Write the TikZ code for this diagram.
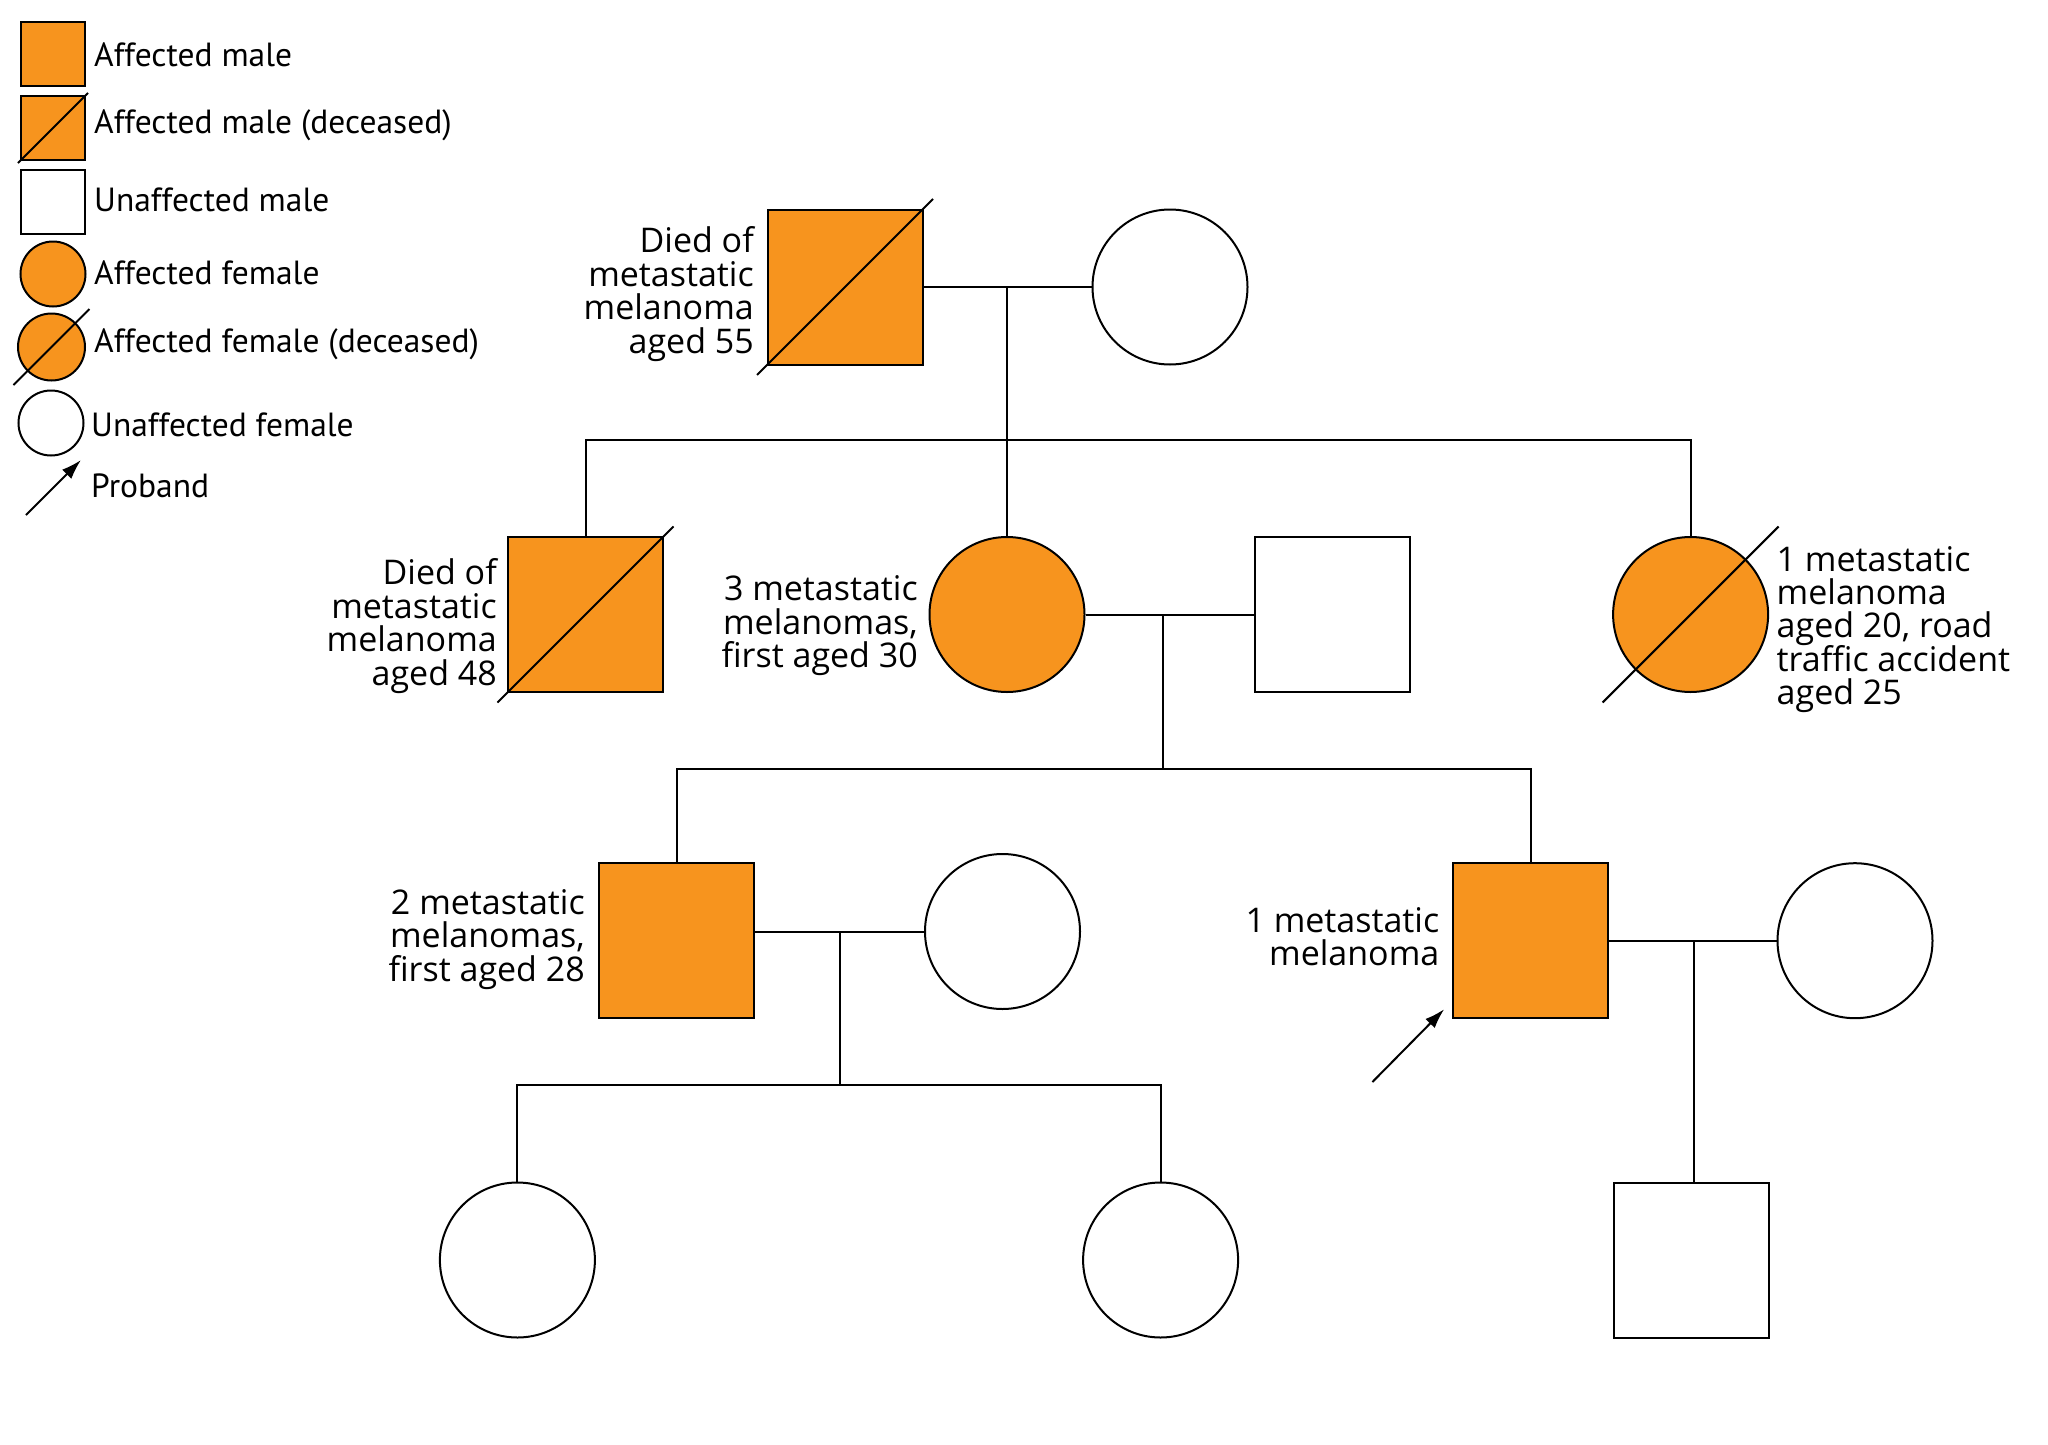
\documentclass[tikz,border=0pt]{standalone}
\usepackage{fontspec}
\setmainfont{PT Sans}
\newfontfamily\notefont{Open Sans}
\usetikzlibrary{arrows.meta,calc}
\definecolor{melorange}{RGB}{247,148,30}
\newcommand{\notesize}{\notefont\fontsize{34}{33.4}\selectfont\lineskiplimit=-20pt\relax}
\tikzstyle{male}=[rectangle,draw,line width=2pt,minimum size=155pt,inner sep=0pt]
\tikzstyle{female}=[circle,draw,line width=2pt,minimum size=155pt,inner sep=0pt]
\tikzstyle{hit}=[fill=melorange]
\tikzstyle{keymale}=[male,minimum size=64pt]
\tikzstyle{keyfemale}=[female,minimum size=65pt]
\tikzstyle{link}=[draw,line width=2pt]
\tikzstyle{note}=[font=\notesize,inner sep=0pt,align=right,anchor=east]
\tikzstyle{keytext}=[font=\fontsize{33.5}{33.5}\selectfont,inner sep=0pt,anchor=base west]
\newcommand{\deceased}[2]{\draw[line width=2pt] ($(#1)+(-#2,#2)$) -- ($(#1)+(#2,-#2)$);}

\begin{document}
\begin{tikzpicture}[x=1pt,y=-1pt]
    \useasboundingbox (0,0) rectangle (2048,1445);
    % Key
    \node[keymale,hit] (K1) at (53,54) {};
    \node[keymale,hit] (K2) at (53,128) {};
    \node[keymale] (K3) at (53,201.5) {};
    \node[keyfemale,hit] (K4) at (53,274) {};
    \node[keyfemale,hit,minimum size=67pt] (K5) at (51.5,347) {};
    \node[keyfemale] (K6) at (51,423) {};
    \deceased{K2}{35}
    \deceased{K5}{38}
    \coordinate (K7a) at (26,515);
    \coordinate (K7b) at (81,460);
    \draw[line width=2pt,-{Latex[length=20pt,width=13pt]}] (K7a) -- (K7b);

    \foreach \pos/ \txt in {{(94,66.5)/Affected male},{(94,133.5)/Affected male (deceased)},
        {(94,211.5)/Unaffected male},{(94,284.5)/Affected female},
        {(94,352.5)/Affected female (deceased)},{(91,436.5)/Unaffected female},{(91,497.5)/Proband}}
        \node[keytext] at \pos {\txt};

    % Generation I
    \node[male,hit] (I1) at (845,287) {};
    \node[female] (I2) at (1170,287) {};
    \deceased{I1}{88}

    % Generation II
    \foreach \pos/ \name in {{(585.5,614.5)/II1},{(1332,614.5)/II3}}
        \node[male] (\name) at \pos {};
    \node[male,hit] at (II1) {};
    \foreach \pos/ \name in {{(1007,614.5)/II2},{(1690.6,614.5)/II4}}
        \node[female,hit] (\name) at \pos {};
    \deceased{II1}{88}
    \deceased{II4}{88}

    % Generation III
    \foreach \pos/ \name in {{(676.5,940.7)/III1},{(1530.7,940.7)/III3}}
        \node[male,hit] (\name) at \pos {};
    \foreach \pos/ \name in {{(1002.5,931.5)/III2},{(1855,940.7)/III4}}
        \node[female] (\name) at \pos {};

    % Generation IV
    \foreach \pos/ \name in {{(517.4,1260)/IV1},{(1160.6,1260)/IV2}}
        \node[female] (\name) at \pos {};
    \node[male] (IV3) at (1691,1260) {};

    % Marriages and sibships
    \coordinate (m1) at (1007,287);
    \coordinate (s1) at (1007,440);
    \path[link] (I1.east) -- (I2.west);
    \path[link] (m1) -- (II2.north);
    \path[link] (II1.north) |- (s1) -| (II4.north);

    \coordinate (m2) at (1162.6,614.5);
    \coordinate (s2) at (1162.6,769);
    \path[link] (II2.east) -- (II3.west);
    \path[link] (m2) -- (s2);
    \path[link] (III1.north) |- (s2) -| (III3.north);

    \coordinate (m3) at (839.6,931.5);
    \coordinate (s3) at (839.6,1085);
    \path[link] (III2.west) -- (III2.west -| III1.east);
    \path[link] (m3) -- (s3);
    \path[link] (IV1.north) |- (s3) -| (IV2.north);

    \coordinate (m4) at (1693.5,940.7);
    \path[link] (III3.east) -- (III4.west);
    \path[link] (m4) -- (m4 |- IV3.north);

    % Proband
    \coordinate (pb) at (1372.4,1082);
    \draw[line width=2pt,-{Latex[length=20pt,width=13pt]}] (pb) -- ($(III3.south west)+(-8,-10)$);

    % Notes
    \node[note] at (754,294) {Died of\\metastatic\\melanoma\\aged 55};
    \node[note] at (497,626) {Died of\\metastatic\\melanoma\\aged 48};
    \node[note] at (918,626) {3 metastatic\\melanomas,\\first aged 30};
    \node[note,align=left,anchor=west] at (1776.5,629.5) {1 metastatic\\melanoma\\aged 20, road\\traffic accident\\aged 25};
    \node[note] at (585,939.5) {2 metastatic\\melanomas,\\first aged 28};
    \node[note] at (1439.5,936.5) {1 metastatic\\melanoma};
\end{tikzpicture}
\end{document}
